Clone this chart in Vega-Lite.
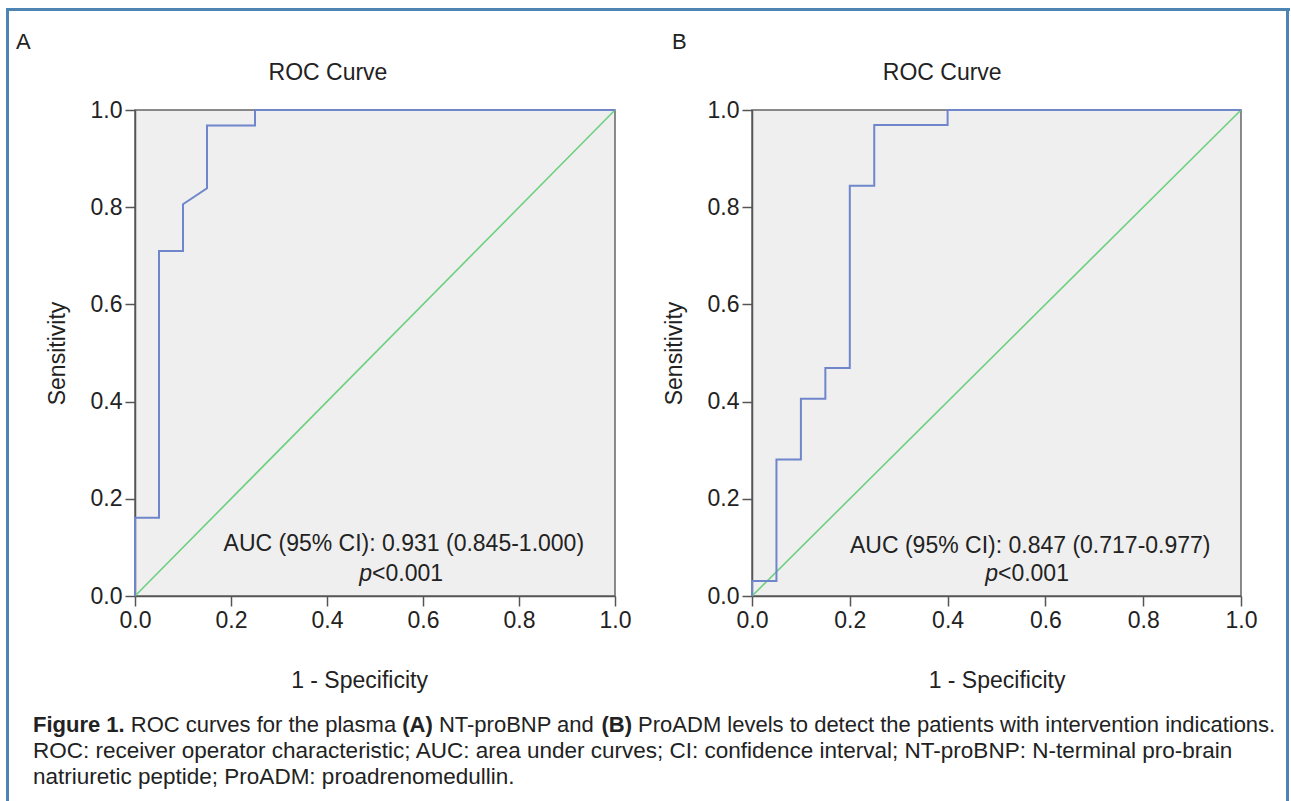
{
  "$schema": "https://vega.github.io/schema/vega-lite/v6.json",
  "background": "white",
  "padding": {"left": 6, "top": 8, "right": 0, "bottom": 0},
  "spacing": 0,
  "datasets": {
    "rocA": [
      {"step": 1, "fpr": 0, "tpr": 0},
      {"step": 2, "fpr": 0, "tpr": 0.161},
      {"step": 3, "fpr": 0.05, "tpr": 0.161},
      {"step": 4, "fpr": 0.05, "tpr": 0.71},
      {"step": 5, "fpr": 0.1, "tpr": 0.71},
      {"step": 6, "fpr": 0.1, "tpr": 0.806},
      {"step": 7, "fpr": 0.15, "tpr": 0.839},
      {"step": 8, "fpr": 0.15, "tpr": 0.968},
      {"step": 9, "fpr": 0.25, "tpr": 0.968},
      {"step": 10, "fpr": 0.25, "tpr": 1},
      {"step": 11, "fpr": 1, "tpr": 1}
    ],
    "rocB": [
      {"step": 1, "fpr": 0, "tpr": 0},
      {"step": 2, "fpr": 0, "tpr": 0.031},
      {"step": 3, "fpr": 0.05, "tpr": 0.031},
      {"step": 4, "fpr": 0.05, "tpr": 0.281},
      {"step": 5, "fpr": 0.1, "tpr": 0.281},
      {"step": 6, "fpr": 0.1, "tpr": 0.406},
      {"step": 7, "fpr": 0.15, "tpr": 0.406},
      {"step": 8, "fpr": 0.15, "tpr": 0.469},
      {"step": 9, "fpr": 0.2, "tpr": 0.469},
      {"step": 10, "fpr": 0.2, "tpr": 0.844},
      {"step": 11, "fpr": 0.25, "tpr": 0.844},
      {"step": 12, "fpr": 0.25, "tpr": 0.969},
      {"step": 13, "fpr": 0.4, "tpr": 0.969},
      {"step": 14, "fpr": 0.4, "tpr": 1},
      {"step": 15, "fpr": 1, "tpr": 1}
    ],
    "diag": [
      {"step": 1, "fpr": 0, "tpr": 0},
      {"step": 2, "fpr": 1, "tpr": 1}
    ],
    "notesA": [
      {"kind": "head", "label": "ROC Curve", "fpr": 0.402, "tpr": 1.077},
      {"kind": "auc", "label": "AUC (95% CI): 0.931 (0.845-1.000)", "fpr": 0.56, "tpr": 0.107},
      {"kind": "p", "label": "p", "fpr": 0.494, "tpr": 0.045},
      {"kind": "sig", "label": "<0.001", "fpr": 0.494, "tpr": 0.045}
    ],
    "notesB": [
      {"kind": "head", "label": "ROC Curve", "fpr": 0.389, "tpr": 1.077},
      {"kind": "auc", "label": "AUC (95% CI): 0.847 (0.717-0.977)", "fpr": 0.569, "tpr": 0.1025},
      {"kind": "p", "label": "p", "fpr": 0.503, "tpr": 0.045},
      {"kind": "sig", "label": "<0.001", "fpr": 0.503, "tpr": 0.045}
    ],
    "caption": [
      {"line": 1, "seg": "fig", "text": "Figure 1."},
      {"line": 1, "seg": "s2", "text": "ROC curves for the plasma"},
      {"line": 1, "seg": "a", "text": "(A)"},
      {"line": 1, "seg": "s4", "text": "NT-proBNP and"},
      {"line": 1, "seg": "b", "text": "(B)"},
      {"line": 1, "seg": "s6", "text": "ProADM levels to detect the patients with intervention indications."},
      {"line": 2, "seg": "full", "text": "ROC: receiver operator characteristic; AUC: area under curves; CI: confidence interval; NT-proBNP: N-terminal pro-brain"},
      {"line": 3, "seg": "full", "text": "natriuretic peptide; ProADM: proadrenomedullin."}
    ]
  },
  "vconcat": [
    {
      "width": 1284, "height": 3,
      "view": {"fill": "#4d84b4", "stroke": null},
      "data": {"values": []},
      "mark": "point",
      "encoding": {}
    },
    {
      "spacing": 6,
      "hconcat": [
        {
          "width": 3, "height": 790,
          "view": {"fill": "#4d84b4", "stroke": null},
          "data": {"values": []},
          "mark": "point",
          "encoding": {}
        },
        {
          "spacing": 17,
          "vconcat": [
            {
              "width": 1, "height": 1,
              "view": {"stroke": null},
              "data": {"values": []},
              "mark": "point",
              "encoding": {}
            },
            {
              "spacing": 30,
              "hconcat": [
                {
                  "width": 480, "height": 486,
                  "title": {"text": "A", "anchor": "start", "frame": "bounds", "dx": -30, "offset": 8, "fontSize": 22, "fontWeight": "normal", "color": "#222"},
                  "view": {"fill": "#efefef", "stroke": "#666666", "strokeWidth": 1.5},
                  "layer": [
                    {
                      "data": {"name": "diag"},
                      "mark": {"type": "line", "color": "#6dd07f", "strokeWidth": 1.6},
                      "encoding": {
                        "x": {"field": "fpr", "type": "quantitative", "scale": {"domain": [0, 1], "nice": false}, "axis": {"title": "1 - Specificity", "values": [0, 0.2, 0.4, 0.6, 0.8, 1], "format": ".1f", "titleX": 224}},
                        "y": {"field": "tpr", "type": "quantitative", "scale": {"domain": [0, 1], "nice": false}, "axis": {"title": "Sensitivity", "values": [0, 0.2, 0.4, 0.6, 0.8, 1], "format": ".1f"}},
                        "order": {"field": "step"}
                      }
                    },
                    {
                      "data": {"name": "rocA"},
                      "mark": {"type": "line", "color": "#6f86cb", "strokeWidth": 2},
                      "encoding": {
                        "x": {"field": "fpr", "type": "quantitative", "scale": {"domain": [0, 1]}},
                        "y": {"field": "tpr", "type": "quantitative", "scale": {"domain": [0, 1]}},
                        "order": {"field": "step"}
                      }
                    },
                    {
                      "data": {"name": "notesA"},
                      "transform": [{"filter": "datum.kind === 'head' || datum.kind === 'auc'"}],
                      "mark": {"type": "text", "fontSize": 23, "color": "#222", "align": "center", "baseline": "middle"},
                      "encoding": {
                        "x": {"field": "fpr", "type": "quantitative", "scale": {"domain": [0, 1]}},
                        "y": {"field": "tpr", "type": "quantitative", "scale": {"domain": [0, 1]}},
                        "text": {"field": "label"}
                      }
                    },
                    {
                      "data": {"name": "notesA"},
                      "transform": [{"filter": "datum.kind === 'p'"}],
                      "mark": {"type": "text", "fontSize": 23, "fontStyle": "italic", "color": "#222", "align": "right", "baseline": "middle"},
                      "encoding": {
                        "x": {"field": "fpr", "type": "quantitative", "scale": {"domain": [0, 1]}},
                        "y": {"field": "tpr", "type": "quantitative", "scale": {"domain": [0, 1]}},
                        "text": {"field": "label"}
                      }
                    },
                    {
                      "data": {"name": "notesA"},
                      "transform": [{"filter": "datum.kind === 'sig'"}],
                      "mark": {"type": "text", "fontSize": 23, "color": "#222", "align": "left", "baseline": "middle"},
                      "encoding": {
                        "x": {"field": "fpr", "type": "quantitative", "scale": {"domain": [0, 1]}},
                        "y": {"field": "tpr", "type": "quantitative", "scale": {"domain": [0, 1]}},
                        "text": {"field": "label"}
                      }
                    }
                  ]
                },
                {
                  "width": 489, "height": 486,
                  "title": {"text": "B", "anchor": "start", "frame": "bounds", "dx": 9, "offset": 8, "fontSize": 22, "fontWeight": "normal", "color": "#222"},
                  "view": {"fill": "#efefef", "stroke": "#666666", "strokeWidth": 1.5},
                  "layer": [
                    {
                      "data": {"name": "diag"},
                      "mark": {"type": "line", "color": "#6dd07f", "strokeWidth": 1.6},
                      "encoding": {
                        "x": {"field": "fpr", "type": "quantitative", "scale": {"domain": [0, 1], "nice": false}, "axis": {"title": "1 - Specificity", "values": [0, 0.2, 0.4, 0.6, 0.8, 1], "format": ".1f"}},
                        "y": {"field": "tpr", "type": "quantitative", "scale": {"domain": [0, 1], "nice": false}, "axis": {"title": "Sensitivity", "values": [0, 0.2, 0.4, 0.6, 0.8, 1], "format": ".1f"}},
                        "order": {"field": "step"}
                      }
                    },
                    {
                      "data": {"name": "rocB"},
                      "mark": {"type": "line", "color": "#6f86cb", "strokeWidth": 2},
                      "encoding": {
                        "x": {"field": "fpr", "type": "quantitative", "scale": {"domain": [0, 1]}},
                        "y": {"field": "tpr", "type": "quantitative", "scale": {"domain": [0, 1]}},
                        "order": {"field": "step"}
                      }
                    },
                    {
                      "data": {"name": "notesB"},
                      "transform": [{"filter": "datum.kind === 'head' || datum.kind === 'auc'"}],
                      "mark": {"type": "text", "fontSize": 23, "color": "#222", "align": "center", "baseline": "middle"},
                      "encoding": {
                        "x": {"field": "fpr", "type": "quantitative", "scale": {"domain": [0, 1]}},
                        "y": {"field": "tpr", "type": "quantitative", "scale": {"domain": [0, 1]}},
                        "text": {"field": "label"}
                      }
                    },
                    {
                      "data": {"name": "notesB"},
                      "transform": [{"filter": "datum.kind === 'p'"}],
                      "mark": {"type": "text", "fontSize": 23, "fontStyle": "italic", "color": "#222", "align": "right", "baseline": "middle"},
                      "encoding": {
                        "x": {"field": "fpr", "type": "quantitative", "scale": {"domain": [0, 1]}},
                        "y": {"field": "tpr", "type": "quantitative", "scale": {"domain": [0, 1]}},
                        "text": {"field": "label"}
                      }
                    },
                    {
                      "data": {"name": "notesB"},
                      "transform": [{"filter": "datum.kind === 'sig'"}],
                      "mark": {"type": "text", "fontSize": 23, "color": "#222", "align": "left", "baseline": "middle"},
                      "encoding": {
                        "x": {"field": "fpr", "type": "quantitative", "scale": {"domain": [0, 1]}},
                        "y": {"field": "tpr", "type": "quantitative", "scale": {"domain": [0, 1]}},
                        "text": {"field": "label"}
                      }
                    }
                  ]
                }
              ]
            },
            {
              "width": 1145, "height": 67,
              "view": {"stroke": null},
              "data": {"name": "caption"},
              "encoding": {
                "x": {"datum": 0, "type": "quantitative", "scale": {"domain": [0, 1]}, "axis": null},
                "y": {"field": "line", "type": "quantitative", "scale": {"domain": [0.423, 3], "reverse": true, "nice": false, "zero": false}, "axis": null},
                "text": {"field": "text"}
              },
              "layer": [
                {"transform": [{"filter": "datum.seg === 'fig'"}], "mark": {"type": "text", "align": "left", "baseline": "middle", "fontSize": 22, "fontWeight": "bold", "color": "#222", "dx": -102}},
                {"transform": [{"filter": "datum.seg === 's2'"}], "mark": {"type": "text", "align": "left", "baseline": "middle", "fontSize": 22, "color": "#222", "dx": -4.2}},
                {"transform": [{"filter": "datum.seg === 'a'"}], "mark": {"type": "text", "align": "left", "baseline": "middle", "fontSize": 22, "fontWeight": "bold", "color": "#222", "dx": 267.2}},
                {"transform": [{"filter": "datum.seg === 's4'"}], "mark": {"type": "text", "align": "left", "baseline": "middle", "fontSize": 22, "color": "#222", "dx": 303.9}},
                {"transform": [{"filter": "datum.seg === 'b'"}], "mark": {"type": "text", "align": "left", "baseline": "middle", "fontSize": 22, "fontWeight": "bold", "color": "#222", "dx": 466.5}},
                {"transform": [{"filter": "datum.seg === 's6'"}], "mark": {"type": "text", "align": "left", "baseline": "middle", "fontSize": 22, "color": "#222", "dx": 503.1}},
                {"transform": [{"filter": "datum.seg === 'full'"}], "mark": {"type": "text", "align": "left", "baseline": "middle", "fontSize": 22.5, "color": "#222", "dx": -102}}
              ]
            }
          ]
        },
        {
          "width": 3, "height": 790,
          "view": {"fill": "#4d84b4", "stroke": null},
          "data": {"values": []},
          "mark": "point",
          "encoding": {}
        }
      ]
    }
  ],
  "config": {
    "font": "Liberation Sans",
    "view": {"stroke": null},
    "axis": {
      "domainColor": "#555555", "domainWidth": 1.5,
      "tickColor": "#555555", "tickWidth": 1.5, "tickSize": 10,
      "labelFontSize": 23, "labelColor": "#222", "labelPadding": 3,
      "labelFlush": false, "labelOverlap": false,
      "titleFontSize": 23, "titleFontWeight": "normal", "titleColor": "#222",
      "grid": false
    },
    "axisX": {"titlePadding": 37},
    "axisY": {"titlePadding": 21}
  }
}
